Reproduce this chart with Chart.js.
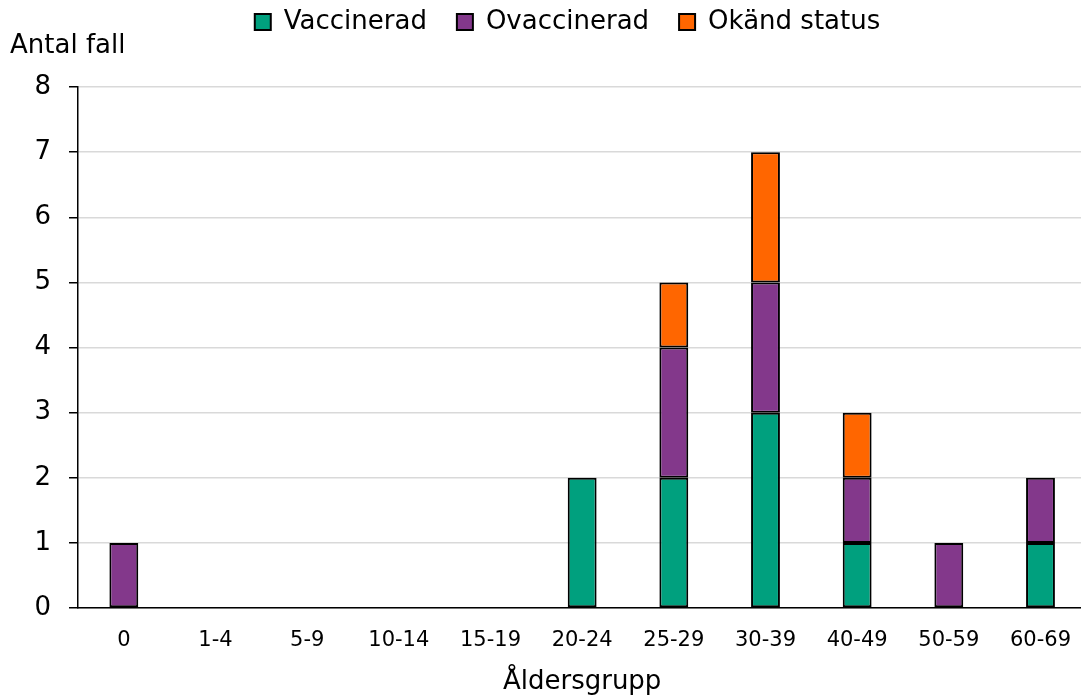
<!DOCTYPE html>
<html>
<head>
<meta charset="utf-8">
<script src="https://cdn.jsdelivr.net/npm/chart.js@4"></script>
<style>
  html, body { margin: 0; padding: 0; background: #fff; overflow: hidden; }
  /* plot area runs past the right edge of the window, like the original */
  #wrap { width: 1091px; height: 698px; position: relative; }
</style>
</head>
<body>
<div id="wrap"><canvas id="chart"></canvas></div>
<script>
// Data
const ageGroups = ["0", "1-4", "5-9", "10-14", "15-19", "20-24", "25-29", "30-39", "40-49", "50-59", "60-69"];
const vaccinated = [0, 0, 0, 0, 0, 2, 2, 3, 1, 0, 1];
const unvaccinated = [1, 0, 0, 0, 0, 0, 2, 2, 1, 1, 1];
const unknownStatus = [0, 0, 0, 0, 0, 0, 1, 2, 1, 0, 0];
const yTicks = [0, 1, 2, 3, 4, 5, 6, 7, 8];

const FONT = "'DejaVu Sans', Verdana, sans-serif";

// "Antal fall" sits above the y axis, horizontally
const yTitlePlugin = {
  id: "yTitle",
  afterDraw(chart) {
    const ctx = chart.ctx;
    ctx.save();
    ctx.font = "26px " + FONT;
    ctx.fillStyle = "#000";
    ctx.textBaseline = "middle";
    ctx.textAlign = "left";
    ctx.fillText("Antal fall", 10, 46);
    ctx.restore();
  }
};

// extra room under the legend, and nudge it a bit to the right
const legendTweakPlugin = {
  id: "legendTweak",
  beforeInit(chart) {
    const legend = chart.legend;
    if (!legend) return;
    const origFit = legend.fit;
    legend.fit = function () {
      origFit.call(this);
      this.height += 42;
    };
    const origDraw = legend.draw;
    legend.draw = function () {
      const ctx = this.ctx;
      ctx.save();
      ctx.translate(22, 0);
      origDraw.apply(this, arguments);
      ctx.restore();
    };
  }
};

function barSet(label, data, color) {
  return {
    label: label,
    data: data,
    backgroundColor: color,
    borderColor: "#000",
    borderWidth: 2,
    borderSkipped: false,
    categoryPercentage: 1,
    barPercentage: 0.315
  };
}

new Chart(document.getElementById("chart"), {
  type: "bar",
  data: {
    labels: ageGroups,
    datasets: [
      barSet("Vaccinerad", vaccinated, "#00A07E"),
      barSet("Ovaccinerad", unvaccinated, "#83388B"),
      barSet("Okänd status", unknownStatus, "#FF6600")
    ]
  },
  options: {
    responsive: true,
    maintainAspectRatio: false,
    animation: false,
    layout: { padding: { top: -21, right: 0, left: 0, bottom: 0 } },
    plugins: {
      legend: {
        position: "top",
        labels: {
          color: "#000",
          font: { family: FONT, size: 26 },
          boxWidth: 16,
          boxHeight: 16,
          padding: 30
        }
      },
      tooltip: { enabled: false }
    },
    scales: {
      x: {
        stacked: true,
        afterFit(scale) { scale.height = 90; },
        grid: { display: false, drawTicks: false },
        border: { display: true, color: "#000", width: 1.5 },
        ticks: { color: "#000", font: { family: FONT, size: 21 }, padding: 20, maxRotation: 0 },
        title: { display: true, text: "Åldersgrupp", color: "#000", font: { family: FONT, size: 26 }, padding: { top: 6, bottom: 0 } }
      },
      y: {
        stacked: true,
        min: 0,
        max: yTicks[yTicks.length - 1],
        afterBuildTicks(scale) { scale.ticks = yTicks.map(v => ({ value: v })); },
        afterFit(scale) { scale.width = 78; },
        grid: { color: "#d9d9d9", lineWidth: 1.5, tickColor: "#000", tickLength: 9 },
        border: { display: true, color: "#000", width: 1.5 },
        ticks: { color: "#000", font: { family: FONT, size: 26 }, padding: 18 }
      }
    }
  },
  plugins: [legendTweakPlugin, yTitlePlugin]
});
</script>
</body>
</html>
